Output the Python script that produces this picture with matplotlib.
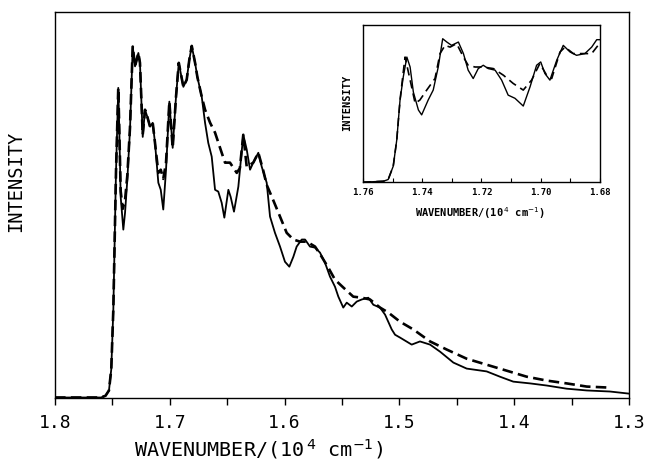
import numpy as np
import matplotlib
matplotlib.use("Agg")
import matplotlib.pyplot as plt

# ---------------- main spectrum data (wavenumber in 10^4 cm^-1, intensity a.u.) ----
solid_wn = [1.800, 1.760, 1.756, 1.753, 1.751, 1.7492, 1.7469, 1.7449, 1.7440, 1.7428,
            1.7405, 1.7390, 1.7370, 1.7347, 1.7323, 1.7303, 1.7274, 1.7260, 1.7236, 1.7216,
            1.7196, 1.7172, 1.7149, 1.7129, 1.7100, 1.7079, 1.7057, 1.7033, 1.7004, 1.6975,
            1.6946, 1.6922, 1.6882, 1.6853, 1.6830, 1.6809, 1.6780, 1.6760, 1.6722, 1.6693,
            1.6665, 1.6635, 1.6606, 1.6578, 1.6548, 1.6525, 1.6490, 1.6470, 1.6441, 1.6403,
            1.6360, 1.6330, 1.6301, 1.6273, 1.6229, 1.6199, 1.6156, 1.6127, 1.6084, 1.6040,
            1.5997, 1.5959, 1.5924, 1.5895, 1.5851, 1.5822, 1.5779, 1.5735, 1.5692, 1.5648,
            1.5605, 1.5561, 1.5532, 1.5489, 1.5459, 1.5415, 1.5372, 1.5328, 1.5271, 1.5227,
            1.5169, 1.5125, 1.5067, 1.5038, 1.4995, 1.4893, 1.4821, 1.4733, 1.4646, 1.4530,
            1.4414, 1.4240, 1.4124, 1.4008, 1.3862, 1.3717, 1.3543, 1.3368, 1.3166, 1.3000]
solid_int = [0.0, 0.0, 0.5, 2.0, 8.0, 24.9, 63.7, 87.8, 75.9, 56.9,
             47.6, 52.4, 61.8, 75.9, 99.5, 93.9, 97.7, 94.9, 73.9, 81.6,
             79.6, 76.8, 77.9, 72.2, 60.9, 58.9, 53.3, 64.6, 83.9, 70.8,
             85.3, 94.9, 88.1, 90.1, 95.8, 99.7, 94.9, 90.9, 85.3, 77.9,
             72.2, 68.3, 58.9, 58.4, 55.2, 51.0, 58.9, 56.9, 52.7, 59.8,
             74.5, 70.3, 64.6, 66.6, 69.4, 65.4, 60.9, 51.3, 46.7, 42.8,
             38.5, 37.1, 39.9, 42.8, 44.8, 44.8, 42.8, 42.5, 41.1, 38.2,
             34.3, 31.4, 28.6, 25.5, 26.9, 25.8, 27.2, 27.8, 28.3, 26.3,
             25.5, 23.5, 19.3, 17.8, 17.0, 15.0, 15.9, 15.0, 13.0, 9.9,
             8.2, 7.4, 5.9, 4.5, 4.0, 3.4, 2.5, 2.0, 1.7, 1.1]

dashed_wn = [1.800, 1.760, 1.756, 1.753, 1.751, 1.7492, 1.7469, 1.7449, 1.7440, 1.7428,
             1.7410, 1.7390, 1.7370, 1.7347, 1.7323, 1.7303, 1.7274, 1.7260, 1.7236, 1.7216,
             1.7196, 1.7172, 1.7149, 1.7129, 1.7100, 1.7079, 1.7057, 1.7033, 1.7004, 1.6975,
             1.6946, 1.6922, 1.6882, 1.6853, 1.6830, 1.6809, 1.6780, 1.6760, 1.6722, 1.6693,
             1.6649, 1.6606, 1.6548, 1.6519, 1.6476, 1.6417, 1.6390, 1.6360, 1.6330, 1.6273,
             1.6229, 1.6188, 1.6156, 1.6101, 1.6040, 1.5982, 1.5924, 1.5866, 1.5807, 1.5735,
             1.5677, 1.5619, 1.5561, 1.5489, 1.5402, 1.5328, 1.5256, 1.5169, 1.5097, 1.4995,
             1.4879, 1.4733, 1.4588, 1.4414, 1.4240, 1.4065, 1.3891, 1.3717, 1.3543, 1.3368,
             1.3166]
dashed_int = [0.0, 0.0, 0.5, 2.0, 8.0, 25.0, 63.7, 87.8, 75.9, 58.5,
              53.5, 56.0, 63.0, 76.5, 99.5, 93.9, 97.7, 94.9, 74.5, 81.6,
              79.6, 76.8, 77.9, 72.2, 63.7, 64.6, 62.0, 66.6, 83.9, 70.8,
              85.3, 94.9, 88.1, 90.1, 95.8, 99.7, 94.9, 90.9, 85.3, 81.6,
              77.9, 75.1, 69.4, 66.6, 66.6, 63.7, 65.0, 74.5, 65.4, 66.6,
              69.4, 64.6, 60.3, 56.1, 51.3, 46.7, 44.8, 44.2, 44.2, 42.8,
              39.9, 36.8, 33.4, 31.2, 28.6, 28.3, 27.8, 25.5, 24.1, 21.5,
              19.3, 15.9, 13.6, 11.0, 9.3, 7.6, 5.9, 4.8, 4.0, 3.1,
              2.8]

main_ticks = [1.8, 1.7, 1.6, 1.5, 1.4, 1.3]
main_ticklabels = ["1.8", "1.7", "1.6", "1.5", "1.4", "1.3"]

# ---------------- inset data --------------------------------------------------------
ins_solid_wn = [1.7600, 1.7531, 1.7515, 1.7498, 1.7486, 1.7475, 1.7464, 1.7452, 1.7441, 1.7430,
                1.7413, 1.7402, 1.7380, 1.7363, 1.7346, 1.7331, 1.7317, 1.7301, 1.7278, 1.7261,
                1.7245, 1.7228, 1.7211, 1.7194, 1.7177, 1.7154, 1.7132, 1.7110, 1.7087, 1.7059,
                1.7036, 1.7014, 1.7000, 1.6986, 1.6969, 1.6946, 1.6924, 1.6901, 1.6879, 1.6851,
                1.6828, 1.6811, 1.6802]
ins_solid_int = [0.2, 0.8, 1.9, 10.3, 27.0, 52.2, 66.9, 79.4, 73.1, 57.2,
                 45.9, 42.8, 52.2, 58.5, 73.1, 91.0, 88.9, 86.8, 88.9, 81.6,
                 71.1, 65.8, 72.1, 74.2, 72.1, 71.1, 64.8, 55.3, 53.3, 48.4,
                 60.6, 74.2, 76.3, 69.0, 64.8, 77.4, 86.8, 82.6, 80.5, 81.6,
                 85.7, 90.4, 90.4]

ins_dash_wn = [1.7600, 1.7531, 1.7515, 1.7498, 1.7486, 1.7475, 1.7464, 1.7458, 1.7436, 1.7424,
               1.7408, 1.7385, 1.7357, 1.7340, 1.7323, 1.7306, 1.7284, 1.7261, 1.7245, 1.7222,
               1.7194, 1.7160, 1.7126, 1.7093, 1.7059, 1.7031, 1.7003, 1.6980, 1.6963, 1.6935,
               1.6918, 1.6890, 1.6856, 1.6828, 1.6802]
ins_dash_int = [0.2, 0.8, 1.9, 10.3, 27.0, 52.2, 70.0, 79.4, 60.6, 50.1,
                52.2, 58.5, 65.8, 81.6, 86.8, 85.7, 87.9, 79.4, 74.2, 73.1,
                73.1, 72.1, 67.9, 62.7, 58.5, 64.8, 75.3, 67.9, 65.8, 82.6,
                85.7, 81.6, 81.6, 81.6, 87.9]

ins_ticks = [1.76, 1.74, 1.72, 1.70, 1.68]
ins_ticklabels = ["1.76", "1.74", "1.72", "1.70", "1.68"]

# ---------------- figure ------------------------------------------------------------
MONO = "DejaVu Sans Mono"
fig = plt.figure(figsize=(6.48, 4.76), dpi=100)
ax = fig.add_axes([0.0849, 0.1649, 0.8858, 0.8105])

ax.plot(solid_wn, solid_int, color="black", lw=1.3, solid_joinstyle="round")
ax.plot(dashed_wn, dashed_int, color="black", lw=1.9, dashes=(4, 2))

ax.set_xlim(1.8, 1.3)
ax.set_ylim(0, 109.4)
ax.set_yticks([])
ax.set_xticks(main_ticks)
ax.set_xticklabels(main_ticklabels, fontfamily=MONO, fontsize=13)
ax.set_xticks([1.75, 1.65, 1.55, 1.45, 1.35], minor=True)
ax.tick_params(axis="x", which="both", direction="out", length=5, width=1.0, pad=7)
for s in ax.spines.values():
    s.set_linewidth(1.0)

ax.set_xlabel(r"WAVENUMBER/(10$^{\,4}$ cm$^{-1}$)", fontfamily=MONO, fontsize=14.5)
ax.xaxis.set_label_coords(0.354, -0.102)
ax.set_ylabel("INTENSITY", fontfamily=MONO, fontsize=13.5)
ax.yaxis.set_label_coords(-0.052, 0.559)

# ---------------- inset -------------------------------------------------------------
ins = fig.add_axes([0.5602, 0.6166, 0.3657, 0.3319])
ins.plot(ins_solid_wn, ins_solid_int, color="black", lw=1.0)
ins.plot(ins_dash_wn, ins_dash_int, color="black", lw=1.2, dashes=(5, 3))
ins.set_xlim(1.76, 1.68)
ins.set_ylim(0, 100)
ins.set_yticks([])
ins.set_xticks(ins_ticks)
ins.set_xticklabels(ins_ticklabels, fontfamily=MONO, fontsize=6.5, fontweight="bold")
ins.set_xticks([1.75, 1.73, 1.71, 1.69], minor=True)
ins.tick_params(axis="x", which="both", direction="in", length=3, width=0.8, pad=4)
for s in ins.spines.values():
    s.set_linewidth(1.0)
ins.set_xlabel(r"WAVENUMBER/(10$^{\,4}$ cm$^{-1}$)", fontfamily=MONO, fontsize=7.5,
               fontweight="bold")
ins.xaxis.set_label_coords(0.494, -0.145)
ins.set_ylabel("INTENSITY", fontfamily=MONO, fontsize=7.5, fontweight="bold")
ins.yaxis.set_label_coords(-0.045, 0.503)

fig.savefig("out.png", dpi=100)
